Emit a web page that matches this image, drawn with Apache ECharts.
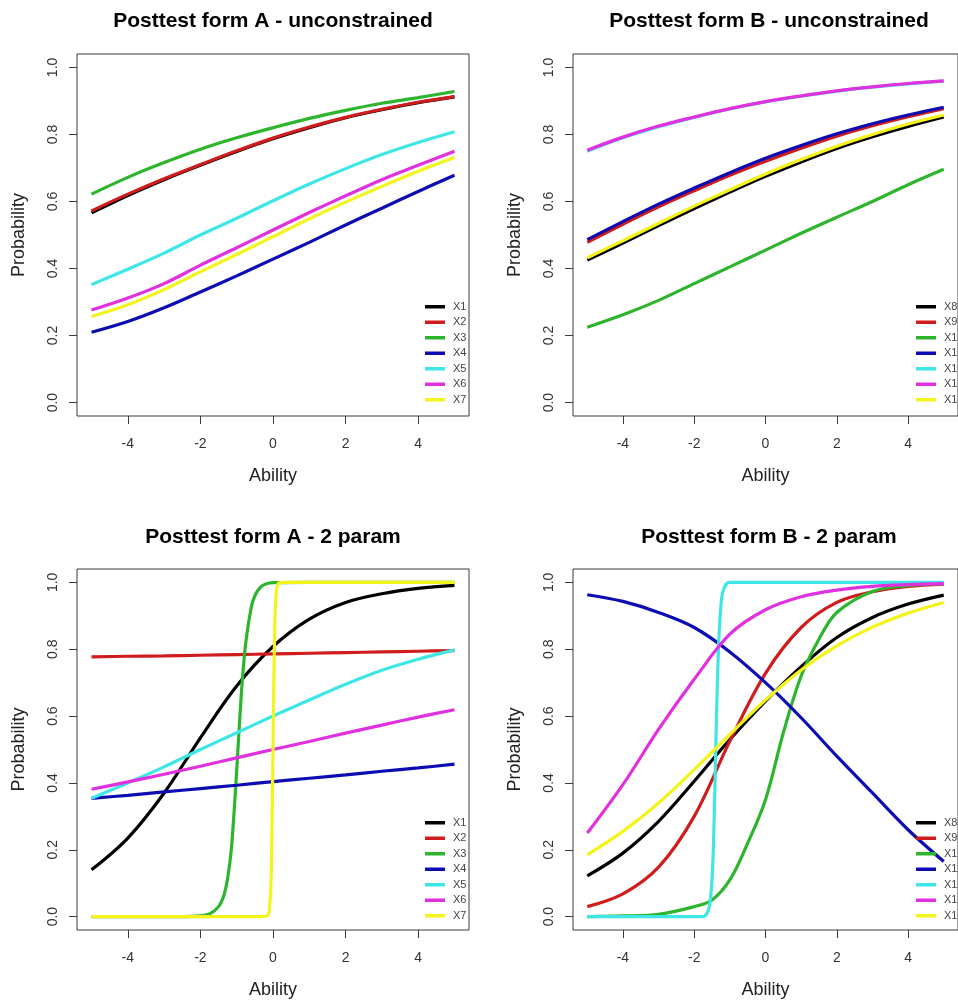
<!DOCTYPE html>
<html><head><meta charset="utf-8">
<script src="https://cdn.jsdelivr.net/npm/echarts@6/dist/echarts.min.js"></script>
<style>html,body{margin:0;padding:0;background:#fff}#c{width:958px;height:1000px}</style>
</head><body><div id="c"></div>
<script>
// ---------- tick labels / categories ----------
const X_TICKS = [-4, -2, 0, 2, 4];
const Y_TICKS = [0, 0.2, 0.4, 0.6, 0.8, 1.0];
const ABILITY = [-5, -4, -3, -2, -1, 0, 1, 2, 3, 4, 5];
const TITLES = ['Posttest form A - unconstrained', 'Posttest form B - unconstrained',
                'Posttest form A - 2 param', 'Posttest form B - 2 param'];
const NAMES_A = ['X1', 'X2', 'X3', 'X4', 'X5', 'X6', 'X7'];
const NAMES_B = ['X8', 'X9', 'X10', 'X11', 'X12', 'X13', 'X14'];

// ---------- Panel 1: form A unconstrained (values at ABILITY) ----------
const AU_X1 = [0.566, 0.618, 0.665, 0.708, 0.749, 0.787, 0.820, 0.850, 0.874, 0.895, 0.912];
const AU_X2 = [0.572, 0.622, 0.668, 0.710, 0.751, 0.789, 0.822, 0.851, 0.875, 0.896, 0.913];
const AU_X3 = [0.622, 0.672, 0.716, 0.756, 0.790, 0.820, 0.848, 0.872, 0.893, 0.910, 0.928];
const AU_X4 = [0.210, 0.242, 0.283, 0.330, 0.378, 0.428, 0.478, 0.530, 0.580, 0.630, 0.678];
const AU_X5 = [0.352, 0.398, 0.446, 0.500, 0.550, 0.602, 0.652, 0.698, 0.740, 0.776, 0.808];
const AU_X6 = [0.276, 0.312, 0.355, 0.410, 0.462, 0.515, 0.567, 0.617, 0.665, 0.708, 0.750];
const AU_X7 = [0.257, 0.292, 0.337, 0.390, 0.442, 0.495, 0.548, 0.598, 0.645, 0.690, 0.731];

// ---------- Panel 2: form B unconstrained (values at ABILITY) ----------
const BU_X8  = [0.425, 0.476, 0.528, 0.579, 0.628, 0.675, 0.718, 0.758, 0.793, 0.824, 0.852];
const BU_X9  = [0.478, 0.532, 0.584, 0.632, 0.678, 0.720, 0.759, 0.795, 0.826, 0.853, 0.877];
const BU_X10 = [0.225, 0.262, 0.305, 0.355, 0.405, 0.455, 0.505, 0.553, 0.600, 0.650, 0.696];
const BU_X11 = [0.486, 0.540, 0.592, 0.640, 0.686, 0.729, 0.767, 0.802, 0.832, 0.858, 0.881];
const BU_X12 = [0.750, 0.790, 0.823, 0.851, 0.876, 0.897, 0.914, 0.929, 0.941, 0.951, 0.959];
const BU_X13 = [0.753, 0.792, 0.825, 0.852, 0.877, 0.898, 0.915, 0.930, 0.942, 0.952, 0.960];
const BU_X14 = [0.432, 0.483, 0.535, 0.586, 0.635, 0.682, 0.725, 0.765, 0.800, 0.831, 0.858];

// ---------- Panel 3: form A 2 param ----------
const A2_X1 = [0.140, 0.235, 0.370, 0.535, 0.690, 0.808, 0.890, 0.940, 0.966, 0.982, 0.991];
const A2_X2 = [0.777, 0.779, 0.780, 0.782, 0.784, 0.786, 0.788, 0.790, 0.792, 0.794, 0.796];
const A2_X3_ABILITY = [-5, -2.5, -2, -1.75, -1.5, -1.35, -1.25, -1.15, -1.05, -0.95, -0.85, -0.75, -0.6, -0.5, -0.35, -0.2, 0, 1, 5];
const A2_X3 = [0, 0, 0.002, 0.008, 0.03, 0.065, 0.115, 0.2, 0.35, 0.53, 0.7, 0.82, 0.925, 0.96, 0.985, 0.995, 0.999, 1, 1];
const A2_X4 = [0.354, 0.363, 0.373, 0.383, 0.393, 0.404, 0.414, 0.424, 0.435, 0.445, 0.456];
const A2_X5 = [0.354, 0.400, 0.448, 0.500, 0.550, 0.600, 0.648, 0.695, 0.737, 0.770, 0.798];
const A2_X6 = [0.381, 0.403, 0.426, 0.450, 0.475, 0.500, 0.524, 0.549, 0.573, 0.597, 0.619];
const A2_X7_ABILITY = [-5, -0.3, -0.15, -0.1, -0.05, 0, 0.05, 0.1, 0.15, 0.3, 5];
const A2_X7 = [0, 0, 0.003, 0.02, 0.12, 0.5, 0.88, 0.98, 0.997, 1, 1];

// ---------- Panel 4: form B 2 param ----------
const B2_X8  = [0.122, 0.190, 0.285, 0.405, 0.530, 0.645, 0.748, 0.835, 0.895, 0.935, 0.962];
const B2_X9  = [0.030, 0.068, 0.148, 0.300, 0.525, 0.728, 0.865, 0.940, 0.972, 0.988, 0.995];
const B2_X10_ABILITY = [-5, -4, -3, -2, -1.5, -1, -0.5, 0, 0.5, 1, 1.5, 2, 3, 4, 5];
const B2_X10 = [0, 0.002, 0.007, 0.03, 0.05, 0.11, 0.22, 0.35, 0.55, 0.72, 0.83, 0.91, 0.973, 0.99, 0.996];
const B2_X11 = [0.963, 0.943, 0.910, 0.865, 0.792, 0.700, 0.595, 0.480, 0.370, 0.260, 0.165];
const B2_X12_ABILITY = [-5, -1.8, -1.7, -1.6, -1.55, -1.5, -1.45, -1.4, -1.35, -1.3, -1.25, -1.2, -1.1, -1.0, 5];
const B2_X12 = [0, 0, 0.002, 0.02, 0.05, 0.11, 0.25, 0.48, 0.7, 0.85, 0.93, 0.97, 0.995, 1, 1];
const B2_X13 = [0.250, 0.395, 0.560, 0.710, 0.845, 0.918, 0.957, 0.977, 0.988, 0.993, 0.996];
const B2_X14 = [0.185, 0.255, 0.340, 0.440, 0.545, 0.648, 0.738, 0.810, 0.866, 0.908, 0.940];

// ---------- styling / layout ----------
const COLORS = ['#000000', '#d01c1c', '#2db52d', '#0c0cb2', '#3ee6e6', '#e030e0', '#f4f41c'];
const GRIDS = [
  { left: 77,  top: 54,  width: 392, height: 362 },
  { left: 573, top: 54,  width: 392, height: 362 },
  { left: 77,  top: 569, width: 392, height: 361 },
  { left: 573, top: 569, width: 392, height: 361 }
];
const TITLE_POS = [[273, 21], [769, 21], [273, 537], [769, 537]];
const LEGEND_POS = [[425, 299], [916, 299], [425, 815], [916, 815]];

const zip = (xs, ys) => xs.map((x, i) => [x, ys[i]]);

const PANELS = [
  { names: NAMES_A, xs: [ABILITY, ABILITY, ABILITY, ABILITY, ABILITY, ABILITY, ABILITY],
    ys: [AU_X1, AU_X2, AU_X3, AU_X4, AU_X5, AU_X6, AU_X7] },
  { names: NAMES_B, xs: [ABILITY, ABILITY, ABILITY, ABILITY, ABILITY, ABILITY, ABILITY],
    ys: [BU_X8, BU_X9, BU_X10, BU_X11, BU_X12, BU_X13, BU_X14] },
  { names: NAMES_A, xs: [ABILITY, ABILITY, A2_X3_ABILITY, ABILITY, ABILITY, ABILITY, A2_X7_ABILITY],
    ys: [A2_X1, A2_X2, A2_X3, A2_X4, A2_X5, A2_X6, A2_X7] },
  { names: NAMES_B, xs: [ABILITY, ABILITY, B2_X10_ABILITY, ABILITY, B2_X12_ABILITY, ABILITY, ABILITY],
    ys: [B2_X8, B2_X9, B2_X10, B2_X11, B2_X12, B2_X13, B2_X14] }
];

const FONT = '"Liberation Sans", Arial, sans-serif';
const option = {
  animation: false,
  backgroundColor: '#ffffff',
  title: TITLES.map((t, i) => ({
    text: t, left: TITLE_POS[i][0], top: TITLE_POS[i][1], textAlign: 'center', textVerticalAlign: 'middle',
    padding: 0,
    textStyle: { fontFamily: FONT, fontSize: 21, fontWeight: 'bold', color: '#000' }
  })),
  grid: GRIDS.map(g => Object.assign({ show: true, borderColor: '#3a3a3a', borderWidth: 1, backgroundColor: 'transparent' }, g)),
  xAxis: GRIDS.map((g, i) => ({
    type: 'value', gridIndex: i, min: -5.4, max: 5.4,
    name: 'Ability', nameLocation: 'middle', nameGap: 51,
    nameTextStyle: { fontFamily: FONT, fontSize: 18, color: '#222' },
    axisLine: { show: false, onZero: false },
    axisTick: { show: true, inside: false, length: 8, customValues: X_TICKS, lineStyle: { color: '#3a3a3a', width: 1 } },
    axisLabel: { customValues: X_TICKS, margin: 21, fontFamily: FONT, fontSize: 14, color: '#333' },
    splitLine: { show: false }
  })),
  yAxis: GRIDS.map((g, i) => ({
    type: 'value', gridIndex: i, min: -0.04, max: 1.04,
    name: 'Probability', nameLocation: 'middle', nameGap: 49,
    nameTextStyle: { fontFamily: FONT, fontSize: 18, color: '#222' },
    axisLine: { show: false, onZero: false },
    axisTick: { show: true, inside: false, length: 8, customValues: Y_TICKS, lineStyle: { color: '#3a3a3a', width: 1 } },
    axisLabel: { customValues: Y_TICKS, rotate: 90, margin: 17, fontFamily: FONT, fontSize: 14, color: '#333',
                 formatter: v => Number(v).toFixed(1) },
    splitLine: { show: false }
  })),
  legend: PANELS.map((p, i) => ({
    orient: 'vertical', left: LEGEND_POS[i][0], top: LEGEND_POS[i][1], padding: 0,
    itemWidth: 20, itemHeight: 3.5, itemGap: 0, icon: 'rect', align: 'left', selectedMode: false,
    data: p.names,
    textStyle: { fontFamily: FONT, fontSize: 11, color: '#444', lineHeight: 15.5, padding: [0, 0, 0, 3] }
  })),
  series: []
};

PANELS.forEach((p, gi) => {
  p.names.forEach((n, k) => {
    option.series.push({
      type: 'line', name: n, xAxisIndex: gi, yAxisIndex: gi,
      data: zip(p.xs[k], p.ys[k]),
      showSymbol: false, symbol: 'none', smooth: 0.35,
      color: COLORS[k],
      lineStyle: { color: COLORS[k], width: 3.2 },
      clip: true
    });
  });
});

const chart = echarts.init(document.getElementById('c'), null, { renderer: 'canvas' });
chart.setOption(option);
</script>
</body></html>
